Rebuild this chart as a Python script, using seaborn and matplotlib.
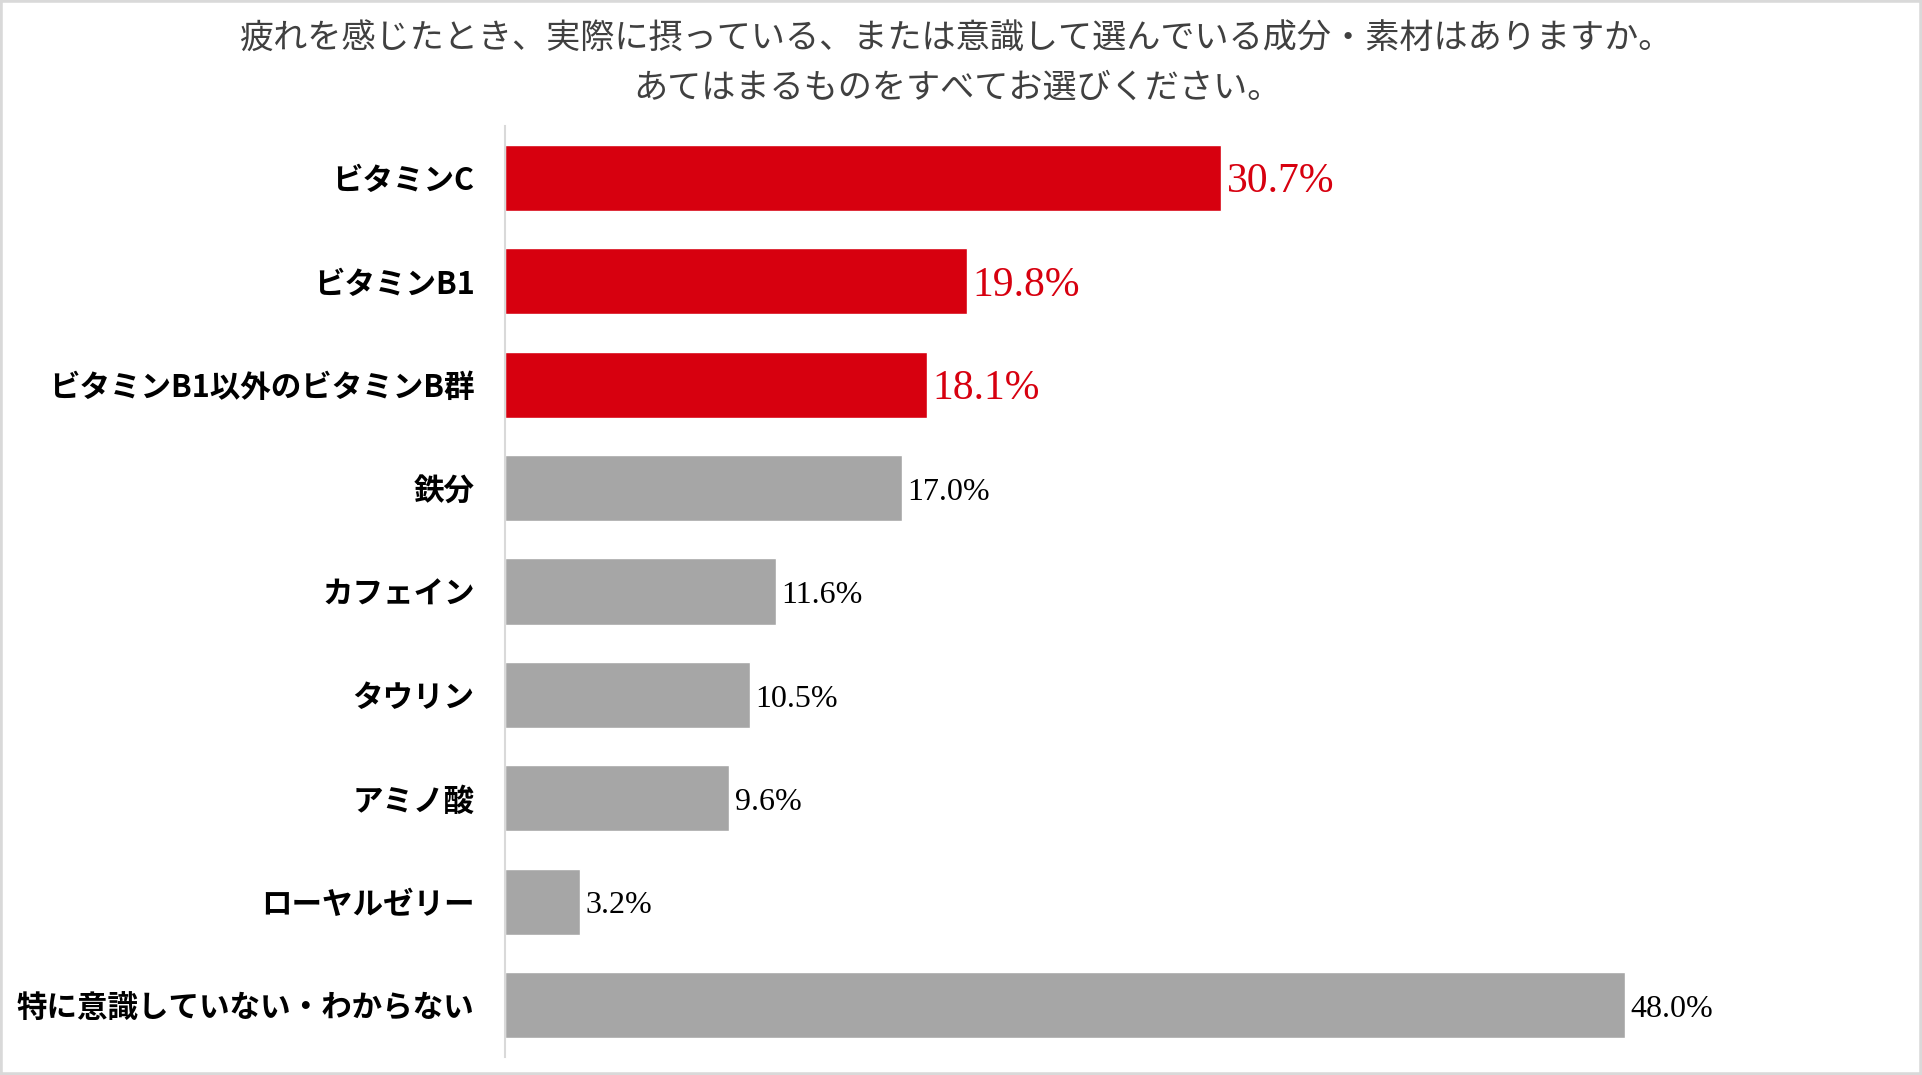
import matplotlib
matplotlib.use('Agg')
import matplotlib.pyplot as plt
import seaborn as sns
import pandas as pd
from matplotlib.patches import Rectangle

categories = ['ビタミンC', 'ビタミンB1', 'ビタミンB1以外のビタミンB群', '鉄分', 'カフェイン',
              'タウリン', 'アミノ酸', 'ローヤルゼリー', '特に意識していない・わからない']
values = [30.7, 19.8, 18.1, 17.0, 11.6, 10.5, 9.6, 3.2, 48.0]
highlight = [True, True, True, False, False, False, False, False, False]
title_line1 = '疲れを感じたとき、実際に摂っている、または意識して選んでいる成分・素材はありますか。'
title_line2 = 'あてはまるものをすべてお選びください。'

RED = '#D7000F'
GRAY = '#A6A6A6'

sns.set_style('white')
plt.rcParams['font.family'] = ['Noto Sans CJK JP', 'DejaVu Sans']

df = pd.DataFrame({'item': categories, 'pct': values})
colors = [RED if h else GRAY for h in highlight]

fig = plt.figure(figsize=(19.22, 10.75), dpi=100)
ax = fig.add_axes([0.2628, 0.017, 0.7282, 0.8656])

sns.barplot(data=df, y='item', x='pct', hue='item', palette=colors,
            order=categories, hue_order=categories, width=0.64,
            legend=False, saturation=1, ax=ax)

for cont, h in zip(ax.containers, highlight):
    texts = ax.bar_label(cont, fmt='%.1f%%', padding=4,
                         color=RED if h else 'black',
                         fontsize=30 if h else 23,
                         family=['Liberation Serif', 'DejaVu Serif'])
    for t in texts:
        t.xyann = (4, -3)

ax.set_xlim(0, 60)
ax.set_ylim(8.5, -0.5)
ax.set_xlabel('')
ax.set_ylabel('')
ax.set_xticks([])
ax.tick_params(axis='y', length=0, pad=22)
for lab in ax.get_yticklabels():
    lab.set_fontsize(22)
    lab.set_fontweight('bold')
    lab.set_color('black')

for s in ['top', 'right', 'bottom']:
    ax.spines[s].set_visible(False)
ax.spines['left'].set_color('#D9D9D9')
ax.spines['left'].set_linewidth(1.5)

fig.text(0.498, 0.963, title_line1, ha='center', va='center', fontsize=24.6, color='#404040')
fig.text(0.498, 0.918, title_line2, ha='center', va='center', fontsize=24.6, color='#404040')

fig.patches.append(Rectangle((0, 0), 1, 1, transform=fig.transFigure, fill=False,
                             edgecolor='#D9D9D9', linewidth=4))

fig.savefig('out.png', dpi=100)
